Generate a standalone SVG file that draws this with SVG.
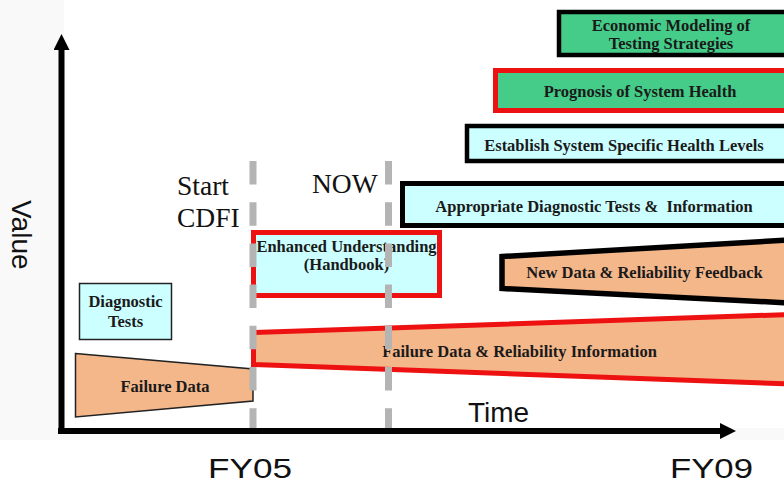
<svg xmlns="http://www.w3.org/2000/svg" width="784" height="484" viewBox="0 0 784 484">
<style>
.lbl{font-family:"Liberation Serif","Times New Roman",serif;font-weight:bold;font-size:16.5px;fill:#1a1a1a;text-anchor:middle}
.peach{fill:#f4b78a}
.cyan{fill:#ccffff}
.green{fill:#44cc88}
.redb{stroke:#ee1111;stroke-width:5}
.blkb{stroke:#000;stroke-width:4.5}
.thin{stroke:#222;stroke-width:1.5}
.axis{stroke:#000;stroke-width:6;fill:none}
.mark{stroke:#b4b4b4;stroke-width:7;stroke-dasharray:23.5 17.7;fill:none}
.serif{font-family:"Liberation Serif","Times New Roman",serif;font-size:27.5px;fill:#111}
.sans{font-family:"Liberation Sans",Arial,sans-serif;font-size:28px;fill:#111}
.fy{font-family:"Liberation Sans",Arial,sans-serif;font-size:27px;fill:#111}
</style>
<defs>
<marker id="arr" markerUnits="userSpaceOnUse" viewBox="0 0 16 16" refX="2" refY="8" markerWidth="16" markerHeight="16" orient="auto">
<path d="M0,0 L16,8 L0,16 Z" fill="#000"/>
</marker>
</defs>
<rect x="0" y="0" width="784" height="484" fill="#fff"/>
<rect x="0" y="0" width="784" height="440" fill="#f9f9f9"/>
<rect x="64" y="0" width="720" height="428" fill="#fff"/>

<g id="econ">
<rect x="559" y="12" width="240" height="43" class="green blkb"/>
<text class="lbl" x="671" y="31">Economic Modeling of</text>
<text class="lbl" x="671" y="49">Testing Strategies</text>
</g>
<g id="prognosis">
<rect x="495.5" y="70.5" width="300" height="40" class="green redb"/>
<text class="lbl" x="640" y="97">Prognosis of System Health</text>
</g>
<g id="establish">
<rect x="467" y="126" width="330" height="35" class="cyan blkb"/>
<text class="lbl" x="624" y="151">Establish System Specific Health Levels</text>
</g>
<g id="appropriate">
<rect x="402.5" y="183.5" width="400" height="42" class="cyan blkb" style="stroke-width:5"/>
<text class="lbl" x="594" y="212" xml:space="preserve">Appropriate Diagnostic Tests &amp;  Information</text>
</g>
<g id="newdata">
<polygon points="502,256.5 790,240 790,303 502,288.5" class="peach blkb" style="stroke-width:5.5"/>
<text class="lbl" x="644.5" y="278">New Data &amp; Reliability Feedback</text>
</g>
<g id="failrel">
<polygon points="253.5,332.5 790,314.5 790,384 253.5,364.5" class="peach redb"/>
<text class="lbl" x="519.5" y="357">Failure Data &amp; Reliability Information</text>
</g>
<g id="enhanced">
<rect x="253.5" y="232.5" width="186" height="63" class="cyan redb"/>
<text class="lbl" x="346.5" y="252">Enhanced Understanding</text>
<text class="lbl" x="346.5" y="270">(Handbook)</text>
</g>
<g id="diagnostic">
<rect x="79.5" y="283.5" width="92" height="56" class="cyan thin"/>
<text class="lbl" x="125.5" y="307">Diagnostic</text>
<text class="lbl" x="125.5" y="327">Tests</text>
</g>
<g id="faildata">
<polygon points="75.5,353.5 253,369 253,401 75.5,417" class="peach thin"/>
<text class="lbl" x="165" y="392">Failure Data</text>
</g>

<g id="markers">
<line x1="253" y1="161" x2="253" y2="432" class="mark"/>
<line x1="388.5" y1="161" x2="388.5" y2="432" class="mark"/>
<text class="serif" x="177" y="195">Start</text>
<text class="serif" x="177" y="227">CDFI</text>
<text class="serif" x="312" y="193">NOW</text>
</g>

<g id="connectors">
<line x1="61.5" y1="434" x2="61.5" y2="48" class="axis" marker-end="url(#arr)"/>
<line x1="58" y1="431" x2="722" y2="431" class="axis" marker-end="url(#arr)"/>
</g>

<g id="axis-labels">
<text class="sans" transform="translate(12,200) rotate(90)">Value</text>
<text class="sans" x="468" y="422">Time</text>
<text class="fy" x="208" y="478" textLength="84" lengthAdjust="spacingAndGlyphs">FY05</text>
<text class="fy" x="670" y="478" textLength="83" lengthAdjust="spacingAndGlyphs">FY09</text>
</g>
</svg>
